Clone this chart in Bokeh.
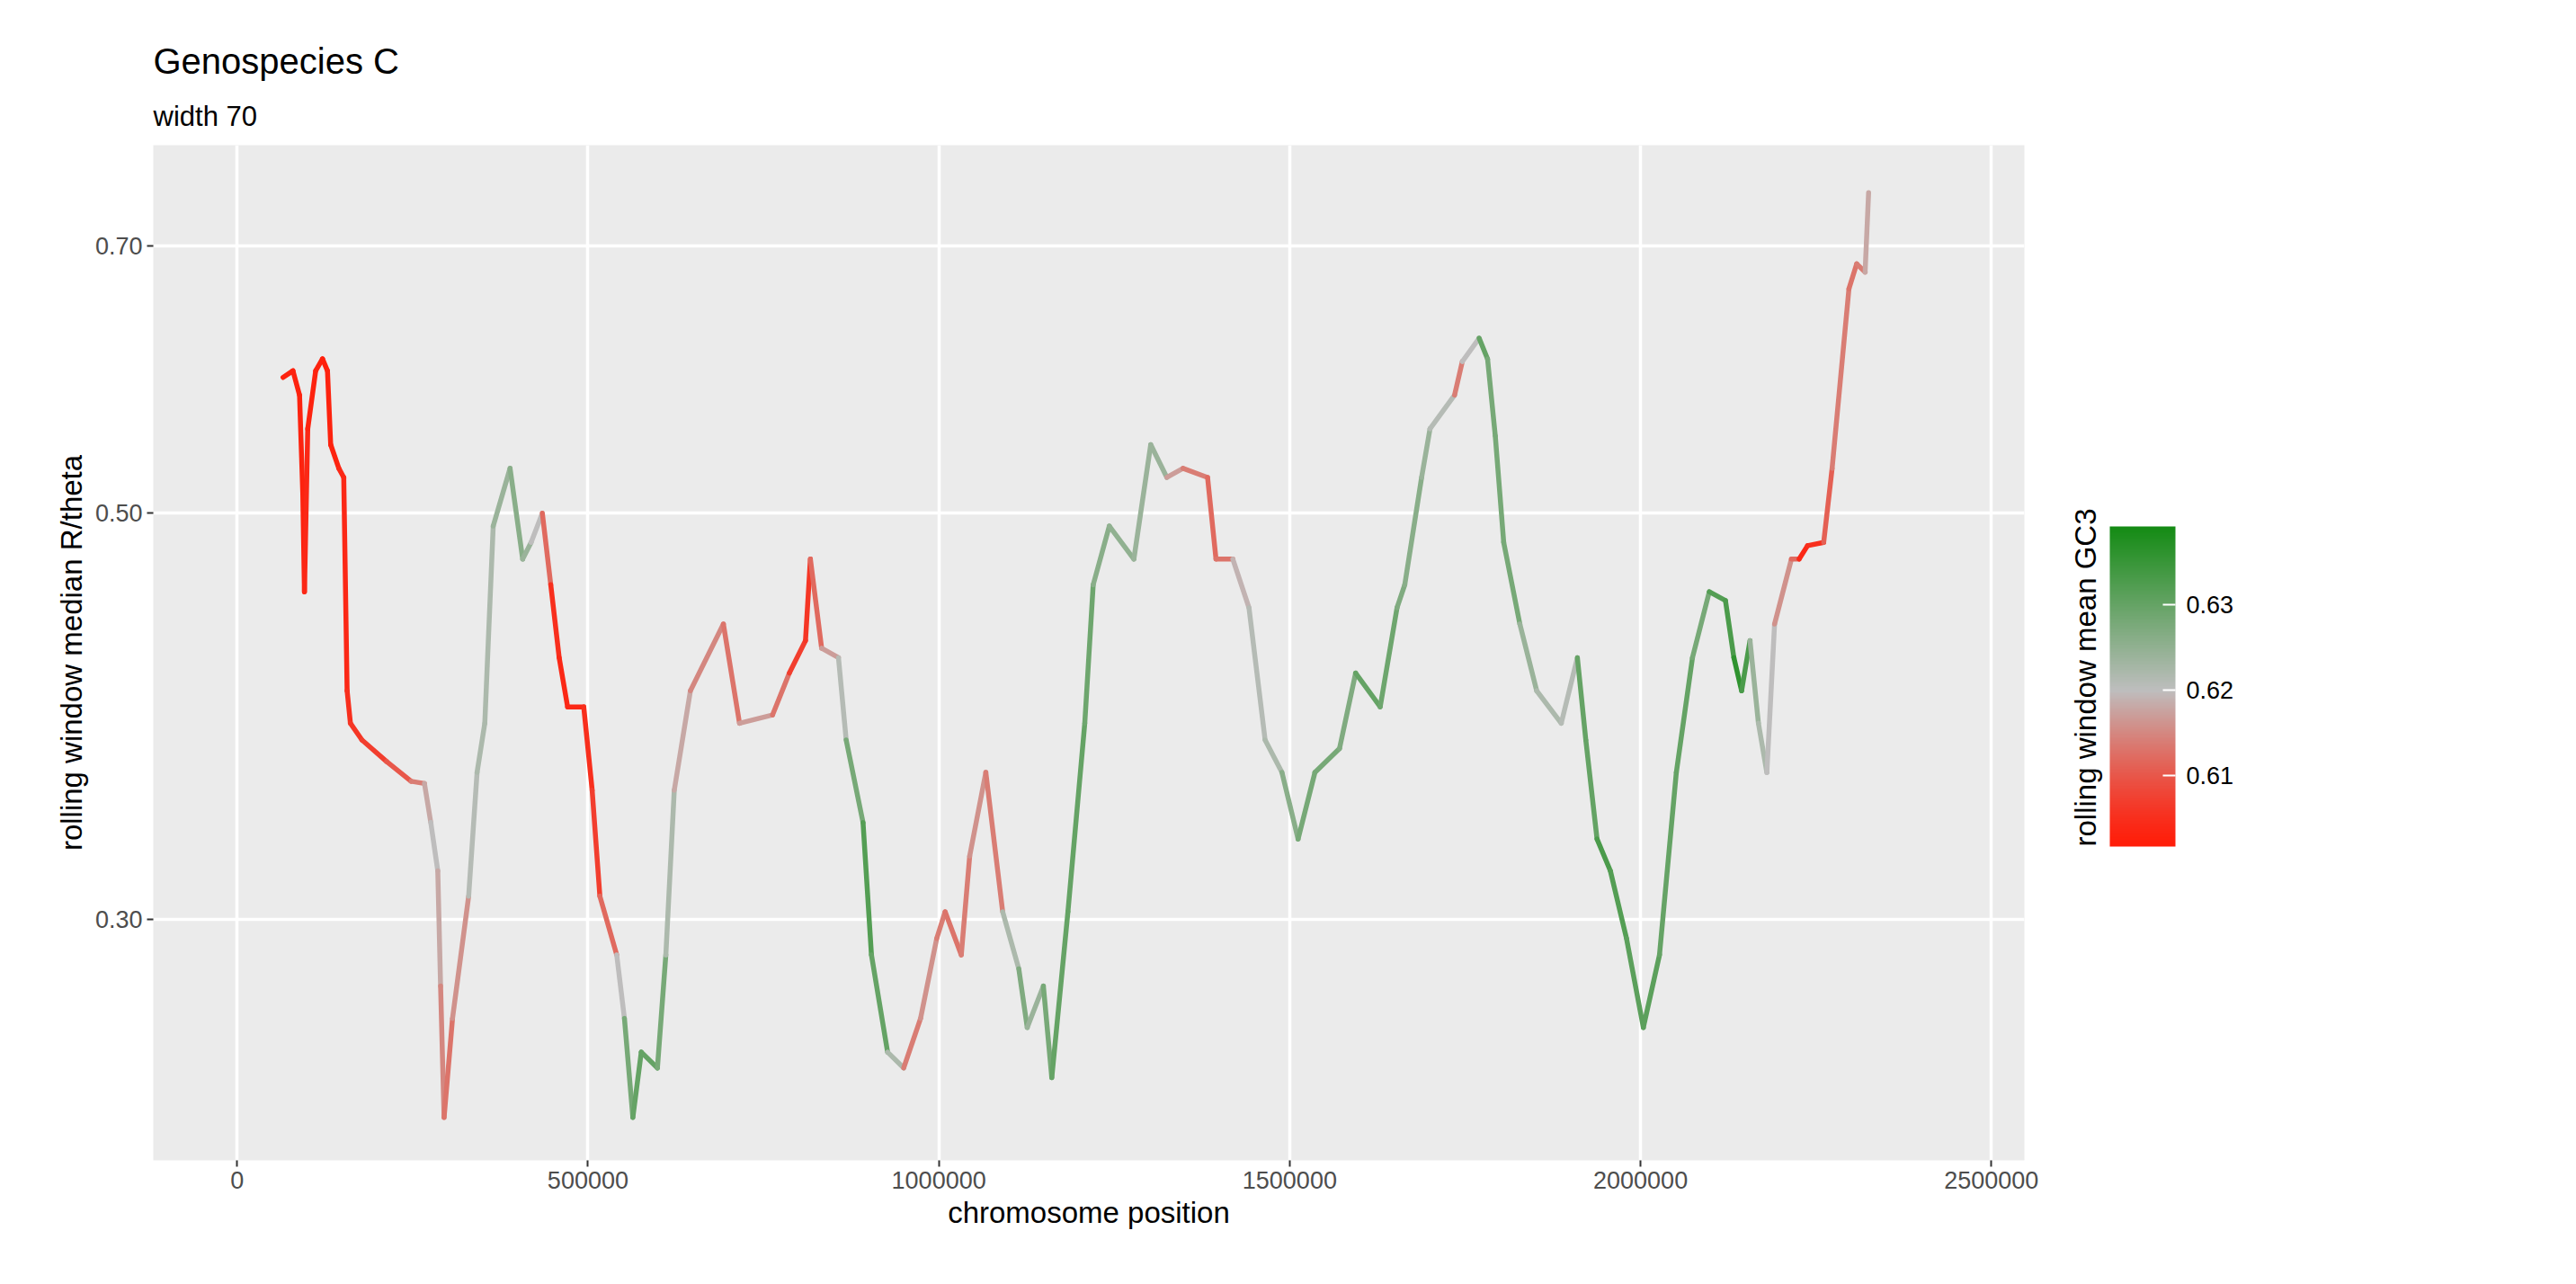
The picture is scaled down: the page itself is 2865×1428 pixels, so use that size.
import numpy as np
from bokeh.models import (ColumnDataSource, LinearColorMapper, ColorBar, FixedTicker,
                          PrintfTickFormatter, BasicTickFormatter, Title, Range1d)
from bokeh.plotting import figure
from bokeh.embed import file_html
from bokeh.resources import INLINE

# chromosome position, rolling median R/theta, rolling mean GC3
pos = [65500, 79600, 89000, 93600, 96000, 100700, 112000, 121700, 128800, 133400,
       145000, 152000, 156800, 161500, 178000, 213000, 248000, 267000, 276000, 286000,
       290000, 295000, 307000, 330000, 342000, 353000, 365000, 389000, 407000, 419000,
       435000, 447000, 459000, 471000, 494000, 506000, 517000, 541000, 552000, 564000,
       576000, 599000, 611000, 623000, 646000, 693000, 716000, 763000, 787000, 810000,
       817000, 833000, 857000, 868000, 892000, 904000, 927000, 950000, 974000, 997000,
       1009000, 1032000, 1044000, 1067000, 1091000, 1114000, 1126000, 1149000, 1161000, 1184000,
       1208000, 1220000, 1243000, 1278000, 1302000, 1325000, 1348000, 1383000, 1395000, 1419000,
       1442000, 1465000, 1489000, 1512000, 1536000, 1571000, 1594000, 1629000, 1653000, 1664000,
       1688000, 1700000, 1735000, 1746000, 1770000, 1782000, 1793000, 1805000, 1828000, 1852000,
       1887000, 1910000, 1922000, 1938000, 1957000, 1980000, 2004000, 2027000, 2051000, 2074000,
       2098000, 2121000, 2133000, 2144000, 2156000, 2168000, 2180000, 2191000, 2215000, 2226000,
       2238000, 2261000, 2273000, 2297000, 2308000, 2320000, 2325000]
ratio = [0.593, 0.598, 0.580, 0.513, 0.453, 0.556, 0.598, 0.607, 0.598, 0.545,
         0.529, 0.523, 0.400, 0.384, 0.376, 0.366, 0.357, 0.356, 0.339, 0.319,
         0.276, 0.234, 0.265, 0.309, 0.361, 0.384, 0.492, 0.529, 0.472, 0.482,
         0.500, 0.457, 0.417, 0.392, 0.392, 0.353, 0.309, 0.287, 0.265, 0.234,
         0.254, 0.249, 0.287, 0.353, 0.400, 0.435, 0.384, 0.388, 0.409, 0.426,
         0.472, 0.422, 0.417, 0.376, 0.339, 0.287, 0.254, 0.249, 0.265, 0.293,
         0.303, 0.287, 0.325, 0.361, 0.303, 0.282, 0.262, 0.276, 0.246, 0.303,
         0.384, 0.457, 0.492, 0.472, 0.545, 0.523, 0.529, 0.523, 0.472, 0.472,
         0.444, 0.376, 0.361, 0.332, 0.361, 0.372, 0.409, 0.392, 0.444, 0.457,
         0.523, 0.556, 0.580, 0.605, 0.623, 0.607, 0.551, 0.482, 0.435, 0.400,
         0.384, 0.417, 0.376, 0.332, 0.319, 0.293, 0.262, 0.287, 0.361, 0.417,
         0.453, 0.448, 0.417, 0.400, 0.426, 0.384, 0.361, 0.435, 0.472, 0.472,
         0.480, 0.482, 0.529, 0.663, 0.684, 0.677, 0.748]
gc3 = [0.603, 0.603, 0.603, 0.603, 0.604, 0.603, 0.603, 0.602, 0.603, 0.603,
       0.604, 0.604, 0.605, 0.606, 0.607, 0.610, 0.614, 0.618, 0.620, 0.618,
       0.615, 0.613, 0.616, 0.621, 0.622, 0.622, 0.624, 0.626, 0.624, 0.620,
       0.612, 0.605, 0.604, 0.604, 0.605, 0.607, 0.612, 0.620, 0.628, 0.630,
       0.630, 0.628, 0.622, 0.618, 0.615, 0.613, 0.617, 0.613, 0.607, 0.606,
       0.612, 0.617, 0.621, 0.628, 0.632, 0.630, 0.622, 0.614, 0.616, 0.614,
       0.613, 0.614, 0.616, 0.614, 0.622, 0.627, 0.624, 0.628, 0.630, 0.630,
       0.629, 0.626, 0.625, 0.624, 0.624, 0.617, 0.614, 0.612, 0.613, 0.619,
       0.621, 0.622, 0.626, 0.628, 0.628, 0.627, 0.630, 0.629, 0.627, 0.626,
       0.624, 0.621, 0.614, 0.620, 0.630, 0.628, 0.628, 0.628, 0.624, 0.622,
       0.621, 0.630, 0.630, 0.633, 0.632, 0.631, 0.631, 0.630, 0.630, 0.628,
       0.632, 0.633, 0.636, 0.633, 0.624, 0.622, 0.620, 0.616, 0.612, 0.604,
       0.605, 0.611, 0.614, 0.613, 0.614, 0.618, 0.624]

gc_low, gc_mid, gc_high = 0.6017, 0.62, 0.6392


def blend(c1, c2, t):
    return tuple(int(round(a + (b - a) * t)) for a, b in zip(c1, c2))


red, grey, green = (255, 30, 10), (190, 190, 190), (20, 139, 20)
n = 256
palette = []
for i in range(n):
    v = gc_low + (gc_high - gc_low) * i / (n - 1)
    if v < gc_mid:
        t = (v - gc_low) / (gc_mid - gc_low)
        c = blend(red, grey, t ** 1.3)
    else:
        c = blend(grey, green, (v - gc_mid) / (gc_high - gc_mid))
    palette.append("#%02x%02x%02x" % c)

mapper = LinearColorMapper(palette=palette, low=gc_low, high=gc_high)

source = ColumnDataSource(dict(
    x0=pos[:-1], y0=ratio[:-1], x1=pos[1:], y1=ratio[1:], gc=gc3[:-1]))

p = figure(width=2845, height=1410, y_axis_type="log", output_backend="svg",
           toolbar_location=None, x_range=Range1d(-119400, 2547000),
           y_range=Range1d(0.2217, 0.794),
           min_border_left=170, min_border_right=594, min_border_top=161, min_border_bottom=120)
p.frame_width = 2081
p.frame_height = 1129
p.background_fill_color = "#EBEBEB"
p.border_fill_color = "white"
p.outline_line_color = None

p.segment(x0="x0", y0="y0", x1="x1", y1="y1", source=source, line_width=5.5,
          line_color={"field": "gc", "transform": mapper}, line_cap="round")

for ax in (p.xaxis, p.yaxis):
    ax.axis_line_color = None
    ax.major_tick_line_color = "#333333"
    ax.major_tick_line_width = 2
    ax.major_tick_out = 7
    ax.major_tick_in = 0
    ax.minor_tick_line_color = None
    ax.major_label_text_color = "#4D4D4D"
    ax.major_label_text_font = "Liberation Sans"
    ax.major_label_text_font_size = "27px"
    ax.axis_label_text_font = "Liberation Sans"
    ax.axis_label_text_font_size = "33px"
    ax.axis_label_text_font_style = "normal"
    ax.axis_label_text_color = "black"

p.xaxis.ticker = FixedTicker(ticks=[0, 500000, 1000000, 1500000, 2000000, 2500000])
p.xaxis.formatter = BasicTickFormatter(use_scientific=False)
p.yaxis.ticker = FixedTicker(ticks=[0.3, 0.5, 0.7])
p.yaxis.formatter = PrintfTickFormatter(format="%.2f")
p.xaxis.axis_label = "chromosome position"
p.yaxis.axis_label = "rolling window median R/theta"

p.xgrid.grid_line_color = "white"
p.ygrid.grid_line_color = "white"
p.xgrid.grid_line_width = 3.5
p.ygrid.grid_line_width = 3.5

p.add_layout(Title(text="width 70", text_font_size="31px", text_font="Liberation Sans",
                   text_font_style="normal", text_color="black", standoff=30), "above")
p.add_layout(Title(text="Genospecies C", text_font_size="40px", text_font="Liberation Sans",
                   text_font_style="normal", text_color="black"), "above")

cb = ColorBar(color_mapper=mapper, width=73, height=356, location=(2119, 349),
              ticker=FixedTicker(ticks=[0.61, 0.62, 0.63]),
              title="rolling window mean GC3", title_text_font_size="33px",
              title_text_font="Liberation Sans", title_text_font_style="normal",
              title_text_color="black",
              title_standoff=18, major_label_text_font_size="27px",
              major_label_text_font="Liberation Sans", major_label_text_color="black",
              major_tick_line_color="white", major_tick_line_width=2,
              major_tick_in=14, bar_line_color=None, border_line_color=None,
              background_fill_color=None, padding=0, label_standoff=12)
p.add_layout(cb, "center")

open("out.html", "w").write(file_html(p, INLINE))
